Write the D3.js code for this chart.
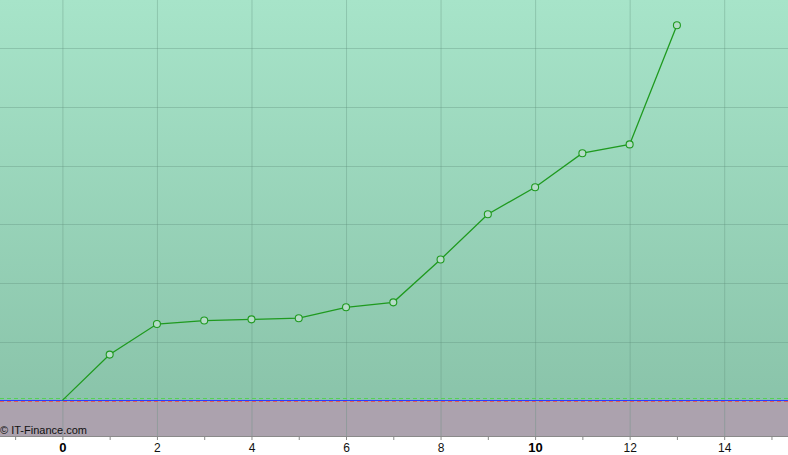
<!DOCTYPE html>
<html>
<head>
<meta charset="utf-8">
<script src="https://cdn.jsdelivr.net/npm/d3@7"></script>
<style>
  body { margin: 0; background: #fff; }
  svg { display: block; font-family: "Liberation Sans", Arial, sans-serif; }
</style>
</head>
<body>
<svg width="788" height="455"></svg>
<script>
// data
var periods = [0, 1, 2, 3, 4, 5, 6, 7, 8, 9, 10, 11, 12, 13];
var values = [0, 7.8, 13.0, 13.6, 13.8, 14.0, 15.85, 16.7, 24.0, 31.7, 36.3, 42.1, 43.6, 63.9];
var xTicks = [0, 2, 4, 6, 8, 10, 12, 14];
var yGrid = [0, 10, 20, 30, 40, 50, 60];

var svg = d3.select("svg"),
    width = +svg.attr("width"),
    plotBottom = 436;

var x = d3.scaleLinear().domain([-1.32, 15.35]).range([0, width]);
var y = d3.scaleLinear().domain([-6.07, 68.2]).range([plotBottom, 0]);

var defs = svg.append("defs");
var grad = defs.append("linearGradient")
    .attr("id", "bg").attr("x1", 0).attr("y1", 0).attr("x2", 0).attr("y2", 1);
grad.append("stop").attr("offset", "0%").attr("stop-color", "#a7e4c9");
grad.append("stop").attr("offset", "100%").attr("stop-color", "#8ac4aa");

// backgrounds: above and below zero
svg.append("rect")
    .attr("x", 0).attr("y", 0)
    .attr("width", width).attr("height", y(0))
    .attr("fill", "url(#bg)");
svg.append("rect")
    .attr("x", 0).attr("y", y(0))
    .attr("width", width).attr("height", plotBottom - y(0))
    .attr("fill", "#aca2ae");

// grid
svg.append("g")
    .selectAll("line")
    .data(d3.range(-1, 16))
    .enter().append("line")
    .filter(function (d) { return d % 2 === 0; })
    .attr("x1", function (d) { return x(d) + 0.5; })
    .attr("x2", function (d) { return x(d) + 0.5; })
    .attr("y1", 0).attr("y2", plotBottom)
    .attr("stroke", "#5f8f7a")
    .attr("stroke-opacity", 0.35);

svg.append("g")
    .selectAll("line")
    .data(yGrid.slice(1))
    .enter().append("line")
    .attr("x1", 0).attr("x2", width)
    .attr("y1", function (d) { return Math.round(y(d)) + 0.5; })
    .attr("y2", function (d) { return Math.round(y(d)) + 0.5; })
    .attr("stroke", "#5f8f7a")
    .attr("stroke-opacity", 0.35);

// zero lines
var y0 = Math.round(y(0));
svg.append("line")
    .attr("x1", 0).attr("x2", width)
    .attr("y1", y0 - 1.5).attr("y2", y0 - 1.5)
    .attr("stroke", "#55d055").attr("stroke-dasharray", "4,3");
svg.append("line")
    .attr("x1", 0).attr("x2", width)
    .attr("y1", y0 + 1.5).attr("y2", y0 + 1.5)
    .attr("stroke", "#e05a5a").attr("stroke-dasharray", "4,3");
svg.append("line")
    .attr("x1", 0).attr("x2", width)
    .attr("y1", y0 + 0.5).attr("y2", y0 + 0.5)
    .attr("stroke", "#2a3cff");

// bottom axis
var axis = svg.append("g").attr("transform", "translate(0," + plotBottom + ")");
axis.append("line")
    .attr("x1", 0).attr("x2", width)
    .attr("y1", 0.5).attr("y2", 0.5)
    .attr("stroke", "#8a8a8a");
axis.selectAll(".tick")
    .data(d3.range(-1, 16))
    .enter().append("line")
    .attr("x1", function (d) { return x(d) + 0.5; })
    .attr("x2", function (d) { return x(d) + 0.5; })
    .attr("y1", 1).attr("y2", 4)
    .attr("stroke", "#8a8a8a");
axis.selectAll("text")
    .data(xTicks)
    .enter().append("text")
    .attr("x", function (d) { return x(d) + 0.5; })
    .attr("y", 16)
    .attr("text-anchor", "middle")
    .attr("font-size", function (d) { return d % 10 === 0 ? 13 : 12; })
    .attr("font-weight", function (d) { return d % 10 === 0 ? "bold" : "normal"; })
    .attr("fill", function (d) { return d % 10 === 0 ? "#000" : "#111"; })
    .text(function (d) { return d; });

// series
var pts = periods.map(function (p, i) { return [p, values[i]]; });
var line = d3.line()
    .x(function (d) { return x(d[0]); })
    .y(function (d) { return y(d[1]); });

svg.append("path")
    .datum(pts)
    .attr("d", line)
    .attr("fill", "none")
    .attr("stroke", "#1f9a1f")
    .attr("stroke-width", 1.3);

svg.append("g")
    .selectAll("circle")
    .data(pts.slice(1))
    .enter().append("circle")
    .attr("cx", function (d) { return x(d[0]); })
    .attr("cy", function (d) { return y(d[1]); })
    .attr("r", 3.5)
    .attr("fill", "#b5dcc8")
    .attr("stroke", "#1f9a1f")
    .attr("stroke-width", 1.1);

svg.append("text")
    .attr("x", 0).attr("y", 434)
    .attr("font-size", 11)
    .attr("fill", "#111")
    .text("© IT-Finance.com");
</script>
</body>
</html>
